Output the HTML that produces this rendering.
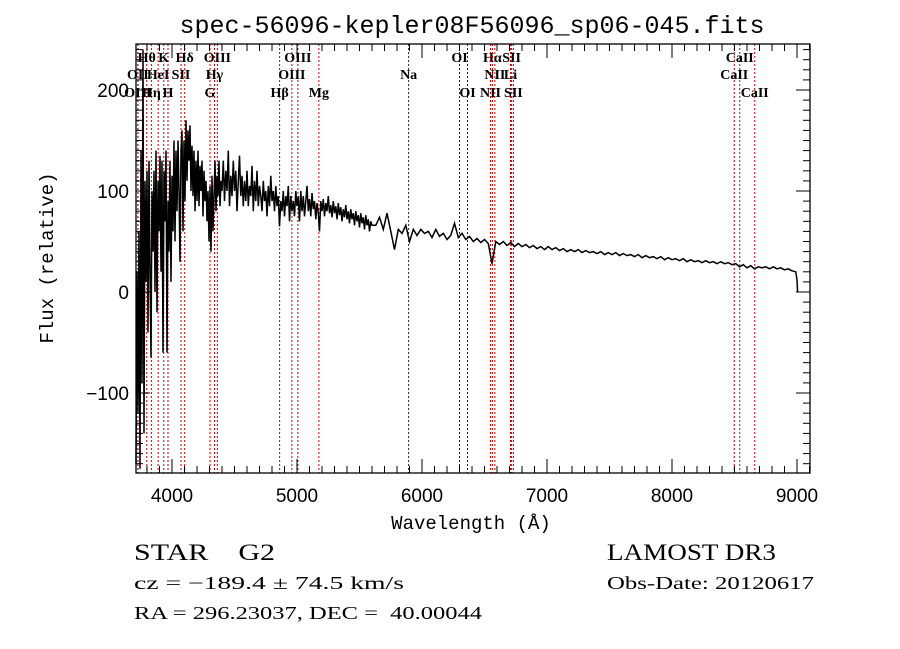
<!DOCTYPE html>
<html><head><meta charset="utf-8"><style>
body{margin:0;background:#fff}
svg{display:block}
text{white-space:pre}
</style></head><body>
<svg id="chart" width="900" height="649" xmlns="http://www.w3.org/2000/svg">
<rect width="900" height="649" fill="#fff"/>
<text x="472" y="33" text-anchor="middle" font-family="Liberation Mono, monospace" font-size="25">spec-56096-kepler08F56096_sp06-045.fits</text>
<g id="lines"></g>
<g id="series"></g>
<g id="axes"></g>
<text x="471" y="529" text-anchor="middle" font-family="Liberation Mono, monospace" font-size="19">Wavelength (Å)</text>
<text transform="translate(53,258) rotate(-90)" text-anchor="middle" font-family="Liberation Mono, monospace" font-size="19">Flux (relative)</text>
<text x="134" y="560" font-family="Liberation Serif, serif" font-size="23" textLength="141" lengthAdjust="spacingAndGlyphs">STAR    G2</text>
<text x="134" y="589" font-family="Liberation Serif, serif" font-size="18" textLength="270" lengthAdjust="spacingAndGlyphs">cz = −189.4 ± 74.5 km/s</text>
<text x="134" y="619" font-family="Liberation Serif, serif" font-size="18" textLength="348" lengthAdjust="spacingAndGlyphs">RA = 296.23037, DEC =  40.00044</text>
<text x="607" y="560" font-family="Liberation Serif, serif" font-size="23" textLength="169" lengthAdjust="spacingAndGlyphs">LAMOST DR3</text>
<text x="607" y="589" font-family="Liberation Serif, serif" font-size="18" textLength="207" lengthAdjust="spacingAndGlyphs">Obs-Date: 20120617</text>
</svg>
<script>
const waveBlue=[3712,3720,3728,3736,3744,3752,3760,3768,3776,3784,3792,3800,3808,3816,3824,3832,3840,3848,3856,3864,3872,3880,3888,3896,3904,3912,3920,3928,3936,3944,3952,3960,3968,3976,3984,3992,4000,4008,4016,4024,4032,4040,4048,4056,4064,4072,4080,4088,4096,4104,4112,4120,4128,4136,4144,4152,4160,4168,4176,4184,4192,4200,4208,4216,4224,4232,4240,4248,4256,4264,4272,4280,4288,4296,4304,4312,4320,4328,4336,4344,4352,4360,4368,4376,4384,4392,4400];
const fluxBlue=[-170,20,-120,60,-175,140,-90,240,-140,110,10,120,-40,130,20,-65,100,40,120,0,140,-20,110,60,135,20,130,-60,120,70,140,-60,90,40,130,10,115,60,150,50,140,80,150,100,30,140,160,60,150,90,170,110,160,130,165,100,145,95,140,80,130,90,140,85,125,100,130,75,120,90,110,70,100,50,105,40,115,60,95,130,80,115,95,130,85,110,100];
const waveMid=[4410,4420,4430,4440,4450,4460,4470,4480,4490,4500,4510,4520,4530,4540,4550,4560,4570,4580,4590,4600,4610,4620,4630,4640,4650,4660,4670,4680,4690,4700,4710,4720,4730,4740,4750,4760,4770,4780,4790,4800,4810,4820,4830,4840,4850,4860,4870,4880,4890,4900,4910,4920,4930,4940,4950,4960,4970,4980,4990,5000,5010,5020,5030,5040,5050,5060,5070,5080,5090,5100,5110,5120,5130,5140,5150,5160,5170,5180,5190,5200,5210,5220,5230,5240,5250,5260,5270,5280,5290,5300,5310,5320,5330,5340,5350,5360,5370,5380,5390,5400,5410,5420,5430,5440,5450,5460,5470,5480,5490,5500,5510,5520,5530,5540,5550,5560,5570,5580,5590,5600];
const fluxMid=[130,90,120,100,140,85,115,95,130,100,120,80,110,135,95,115,85,110,90,120,85,105,95,125,80,110,90,120,85,105,95,80,110,90,100,75,105,85,115,90,100,80,105,85,95,65,90,80,100,75,95,85,105,70,95,80,90,75,100,85,95,70,100,80,95,75,90,105,80,92,75,98,82,90,72,88,78,60,90,80,92,75,88,80,95,78,86,74,90,78,85,72,88,76,84,70,82,74,86,72,80,68,82,72,78,66,80,70,76,64,78,68,74,62,76,66,72,60,70,66];
const waveRed=[5630,5660,5690,5720,5750,5780,5810,5840,5870,5900,5930,5960,5990,6020,6050,6080,6110,6140,6170,6200,6230,6260,6290,6320,6350,6380,6410,6440,6470,6500,6530,6560,6590,6620,6650,6680,6710,6740,6770,6800,6830,6860,6890,6920,6950,6980,7010,7040,7070,7100,7130,7160,7190,7220,7250,7280,7310,7340,7370,7400,7430,7460,7490,7520,7550,7580,7610,7640,7670,7700,7730,7760,7790,7820,7850,7880,7910,7940,7970,8000,8030,8060,8090,8120,8150,8180,8210,8240,8270,8300,8330,8360,8390,8420,8450,8480,8510,8540,8570,8600,8630,8660,8690,8720,8750,8780,8810,8840,8870,8900,8930,8960,8990,9000,9005];
const fluxRed=[66,74,62,78,60,42,62,58,66,50,62,56,62,58,60,54,62,55,58,52,56,68,54,58,52,55,50,53,49,52,48,28,50,47,50,46,49,45,48,45,47,44,46,43,45,42,45,42,44,41,43,40,42,40,42,39,41,39,40,38,40,37,39,37,39,36,38,36,37,35,37,34,36,34,35,33,35,32,34,32,33,31,33,30,32,30,31,29,31,29,30,28,30,28,29,27,28,25,27,24,26,23,25,24,25,23,25,23,24,22,23,21,20,12,0];
const lineNames=["Hθ","K","Hδ","OIII","OIII","OI","Hα","SII","CaII","OII","HeI","SII","Hγ","OIII","Na","NII","Li","CaII","OIII","Hη","H","G","Hβ","Mg","OI","NII","SII","CaII"];
const lineWaves=[3798,3934,4102,4363,5007,6300,6563,6717,8542,3727,3889,4072,4340,4959,5893,6583,6708,8498,3727,3835,3968,4304,4861,5175,6364,6548,6731,8662];
const lineRows=[0,0,0,0,0,0,0,0,0,1,1,1,1,1,1,1,1,1,2,2,2,2,2,2,2,2,2,2];
const xTicks=[4000,5000,6000,7000,8000,9000];
const yTicks=[-100,0,100,200];

const X0=136,X1=810,Y0=44,Y1=473;
const xs=w=>172+(w-4000)*0.125;
const ys=f=>292-f*1.01;
const NS="http://www.w3.org/2000/svg";
function mk(tag,attrs,parent){const e=document.createElementNS(NS,tag);for(const k in attrs)e.setAttribute(k,attrs[k]);parent.appendChild(e);return e;}

const lg=document.getElementById('lines');
const rowY=[62,79,97];
lineWaves.forEach((w,i)=>{
  const x=xs(w);
  const black=(lineNames[i]==="Na"||lineNames[i]==="OI");
  const l=mk('line',{x1:x,x2:x,y1:Y0,y2:Y1,stroke:black?'#222':'#c00000','stroke-width':1,'stroke-dasharray':'2,2'},lg);
  
  
  const t=mk('text',{x:x,y:rowY[lineRows[i]],'text-anchor':'middle','font-family':'Liberation Serif, serif','font-size':14,'font-weight':'bold'},lg);
  t.textContent=lineNames[i];
  
  
});

const sg=document.getElementById('series');
const waves=waveBlue.concat(waveMid,waveRed);
const fluxes=fluxBlue.concat(fluxMid,fluxRed);
let d='';
waves.forEach((w,i)=>{const y=Math.max(Y0,Math.min(Y1,ys(fluxes[i])));d+=(i?'L':'M')+xs(w).toFixed(1)+','+y.toFixed(1);});
const p=mk('path',{d:d,fill:'none',stroke:'#000','stroke-width':1.5},sg);



const ag=document.getElementById('axes');
const frame=mk('rect',{x:X0,y:Y0,width:X1-X0,height:Y1-Y0,fill:'none',stroke:'#000','stroke-width':1.3},ag);


for(let w=3800;w<=9100;w+=100){
  const x=xs(w);const major=w%1000===0;const len=major?14:7;
  mk('line',{x1:x,x2:x,y1:Y1,y2:Y1-len,stroke:'#000'},ag);
  mk('line',{x1:x,x2:x,y1:Y0,y2:Y0+len,stroke:'#000'},ag);
}
xTicks.forEach(v=>{
  const t=mk('text',{x:xs(v),y:Y1+29,'text-anchor':'middle','font-family':'Liberation Sans, sans-serif','font-size':19},ag);
  t.textContent=v;
  
  
});
for(let f=-170;f<=240;f+=10){
  const y=ys(f);const major=f%100===0;const len=major?14:7;
  mk('line',{x1:X0,x2:X0+len,y1:y,y2:y,stroke:'#000'},ag);
  mk('line',{x1:X1,x2:X1-len,y1:y,y2:y,stroke:'#000'},ag);
}
yTicks.forEach(v=>{
  const t=mk('text',{x:129,y:ys(v)+7,'text-anchor':'end','font-family':'Liberation Sans, sans-serif','font-size':19},ag);
  t.textContent=v<0?'−'+(-v):v;
  
  
});
</script>
</body></html>
